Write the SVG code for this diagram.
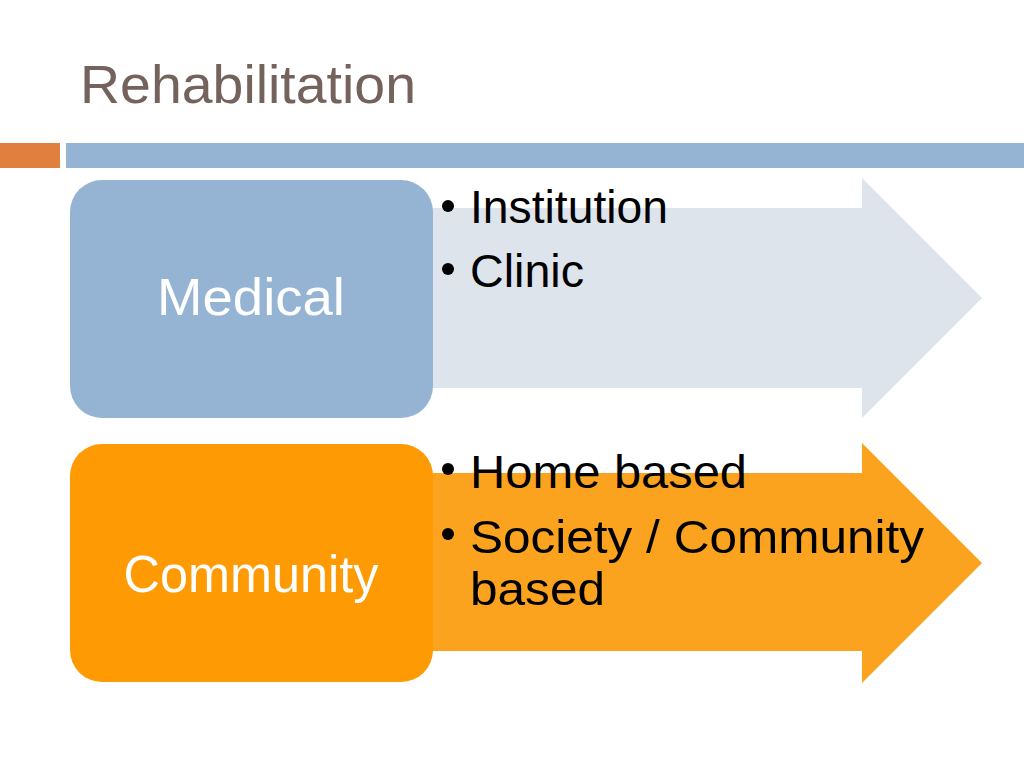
<svg xmlns="http://www.w3.org/2000/svg" width="1024" height="768" viewBox="0 0 1024 768">
<style>
.title{font-family:"Liberation Sans",Arial,sans-serif;font-size:54px;fill:#74625C}
.lbl{font-family:"Liberation Sans",Arial,sans-serif;font-size:52px;fill:#FFFFFF;text-anchor:middle}
.bul{font-family:"Liberation Sans",Arial,sans-serif;font-size:47px;fill:#000000}
</style>
<rect width="1024" height="768" fill="#FFFFFF"/>
<text class="title" x="80" y="103" textLength="336" lengthAdjust="spacingAndGlyphs">Rehabilitation</text>
<rect x="0" y="143" width="60" height="25" fill="#E07F3E"/>
<rect x="66" y="143" width="958" height="25" fill="#95B3D3"/>
<g id="connectors">
<polygon id="arrow-medical" points="420,208 862,208 862,178 982,298 862,418 862,388 420,388" fill="#DDE4EC"/>
<polygon id="arrow-community" points="420,473 862,473 862,443 982,563 862,683 862,651 420,651" fill="#FBA31E"/>
</g>
<g id="medical">
<rect x="70" y="180" width="363" height="238" rx="32" fill="#95B4D4"/>
<text class="lbl" x="251" y="315" textLength="188" lengthAdjust="spacingAndGlyphs">Medical</text>
</g>
<g id="medical-items">
<circle cx="448" cy="206" r="6" fill="#000"/>
<text class="bul" x="470" y="223" textLength="198" lengthAdjust="spacingAndGlyphs">Institution</text>
<circle cx="448" cy="269" r="6" fill="#000"/>
<text class="bul" x="470" y="287" textLength="114" lengthAdjust="spacingAndGlyphs">Clinic</text>
</g>
<g id="community">
<rect x="70" y="444" width="363" height="238" rx="32" fill="#FD9A04"/>
<text class="lbl" x="251" y="592" textLength="255" lengthAdjust="spacingAndGlyphs">Community</text>
</g>
<g id="community-items">
<circle cx="448" cy="469" r="6" fill="#000"/>
<text class="bul" x="470" y="488" textLength="277" lengthAdjust="spacingAndGlyphs">Home based</text>
<circle cx="448" cy="534" r="6" fill="#000"/>
<text class="bul" x="470" y="553" textLength="454" lengthAdjust="spacingAndGlyphs">Society / Community</text>
<text class="bul" x="470" y="605" textLength="135" lengthAdjust="spacingAndGlyphs">based</text>
</g>
</svg>
